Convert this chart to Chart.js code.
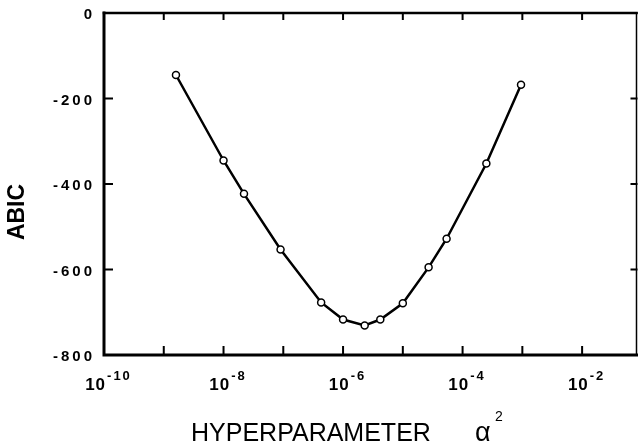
<!DOCTYPE html>
<html>
<head>
<meta charset="utf-8">
<script src="https://cdn.jsdelivr.net/npm/chart.js@4.4.1/dist/chart.umd.min.js"></script>
<style>
  html, body { margin: 0; padding: 0; background: #fff; }
  #wrap { width: 642px; height: 442px; }
</style>
</head>
<body>
<div id="wrap"><canvas id="abic" width="642" height="442"></canvas></div>
<script>
// hyperparameter alpha^2 values and ABIC
const alphaSq = [1.6e-9, 1e-8, 2.2e-8, 9e-8, 4.3e-7, 1e-6, 2.3e-6, 4.2e-6, 1e-5, 2.7e-5, 5.4e-5, 2.5e-4, 9.5e-4];
const abic = [-145, -345, -423, -553, -677, -717, -731, -717, -679, -595, -528, -352, -168];

// tick labels
const xLabelExps = [-10, -8, -6, -4, -2];
const xTickExps = [-10, -9, -8, -7, -6, -5, -4, -3, -2];
const yTicks = [0, -200, -400, -600, -800];

const FONT = '"Liberation Sans", Arial, sans-serif';

// frame, ticks and labels drawn from the chart's own scales
const framePlugin = {
    id: 'frame',
    afterDraw(chart) {
        const ctx = chart.ctx;
        const xs = chart.scales.x;
        const ys = chart.scales.y;
        const a = chart.chartArea;
        ctx.save();
        ctx.strokeStyle = '#000';
        ctx.lineCap = 'square';

        // box
        ctx.lineWidth = 3;
        ctx.beginPath();
        ctx.moveTo(a.left, a.top);
        ctx.lineTo(a.left, a.bottom);
        ctx.lineTo(a.right, a.bottom);
        ctx.stroke();
        ctx.lineWidth = 2.5;
        ctx.beginPath();
        ctx.moveTo(a.left, a.top);
        ctx.lineTo(a.right, a.top);
        ctx.stroke();
        ctx.lineWidth = 1.5;
        ctx.beginPath();
        ctx.moveTo(a.right, a.top);
        ctx.lineTo(a.right, a.bottom);
        ctx.stroke();

        // y ticks, both sides pointing in
        ctx.lineWidth = 2;
        yTicks.forEach(v => {
            const y = ys.getPixelForValue(v);
            ctx.beginPath();
            ctx.moveTo(a.left, y);
            ctx.lineTo(a.left + 8, y);
            ctx.moveTo(a.right, y);
            ctx.lineTo(a.right - 5, y);
            ctx.stroke();
        });

        // x ticks, top and bottom
        xTickExps.forEach(e => {
            const x = xs.getPixelForValue(Math.pow(10, e));
            ctx.beginPath();
            ctx.moveTo(x, a.bottom);
            ctx.lineTo(x, a.bottom - 8);
            ctx.moveTo(x, a.top);
            ctx.lineTo(x, a.top + 6);
            ctx.stroke();
        });

        // y labels
        ctx.fillStyle = '#000';
        ctx.font = 'bold 15px ' + FONT;
        ctx.textAlign = 'right';
        ctx.textBaseline = 'middle';
        ctx.letterSpacing = '3px';
        yTicks.forEach(v => {
            const y = ys.getPixelForValue(v) + 2;
            ctx.fillText(v === 0 ? '0' : '-' + Math.abs(v), a.left - 12 + 3, y);
        });

        // x labels: 10 with superscript exponent
        ctx.textAlign = 'left';
        ctx.textBaseline = 'alphabetic';
        xLabelExps.forEach(e => {
            const x = xs.getPixelForValue(Math.pow(10, e));
            ctx.font = 'bold 17px ' + FONT;
            ctx.letterSpacing = '1px';
            const base = '10';
            const wb = ctx.measureText(base).width;
            ctx.font = 'bold 13px ' + FONT;
            ctx.letterSpacing = '2px';
            const sup = '-' + Math.abs(e);
            const ws = ctx.measureText(sup).width;
            const left = x + 5 - (wb + 2 + ws) / 2;
            ctx.font = 'bold 17px ' + FONT;
            ctx.letterSpacing = '1px';
            ctx.fillText(base, left, a.bottom + 35);
            ctx.font = 'bold 13px ' + FONT;
            ctx.letterSpacing = '2px';
            ctx.fillText(sup, left + wb + 1, a.bottom + 25);
        });
        ctx.letterSpacing = '0px';

        // axis titles
        ctx.font = '25px ' + FONT;
        ctx.fillText('HYPERPARAMETER', 191, 441);
        ctx.font = '27px ' + FONT;
        ctx.fillText('\u03b1', 475, 441);
        ctx.font = '14px ' + FONT;
        ctx.fillText('2', 495, 421);

        ctx.translate(18, 212);
        ctx.rotate(-Math.PI / 2);
        ctx.font = 'bold 23px ' + FONT;
        ctx.textAlign = 'center';
        ctx.textBaseline = 'middle';
        ctx.fillText('ABIC', 0, 0);
        ctx.restore();
    }
};

const points = alphaSq.map((a, i) => ({ x: a, y: abic[i] }));

new Chart(document.getElementById('abic'), {
    type: 'scatter',
    data: {
        datasets: [{
            data: points,
            showLine: true,
            borderColor: '#000',
            borderWidth: 2.5,
            pointRadius: 3.5,
            pointBorderWidth: 1.5,
            pointBackgroundColor: '#fff',
            pointBorderColor: '#000'
        }]
    },
    options: {
        responsive: false,
        animation: false,
        layout: { padding: { left: 104, right: 4, top: 13, bottom: 87 } },
        plugins: { legend: { display: false }, tooltip: { enabled: false } },
        scales: {
            x: {
                type: 'logarithmic',
                display: false,
                min: 1e-10,
                max: Math.pow(10, -1.09)
            },
            y: {
                type: 'linear',
                display: false,
                min: -800,
                max: 0
            }
        }
    },
    plugins: [framePlugin]
});
</script>
</body>
</html>
